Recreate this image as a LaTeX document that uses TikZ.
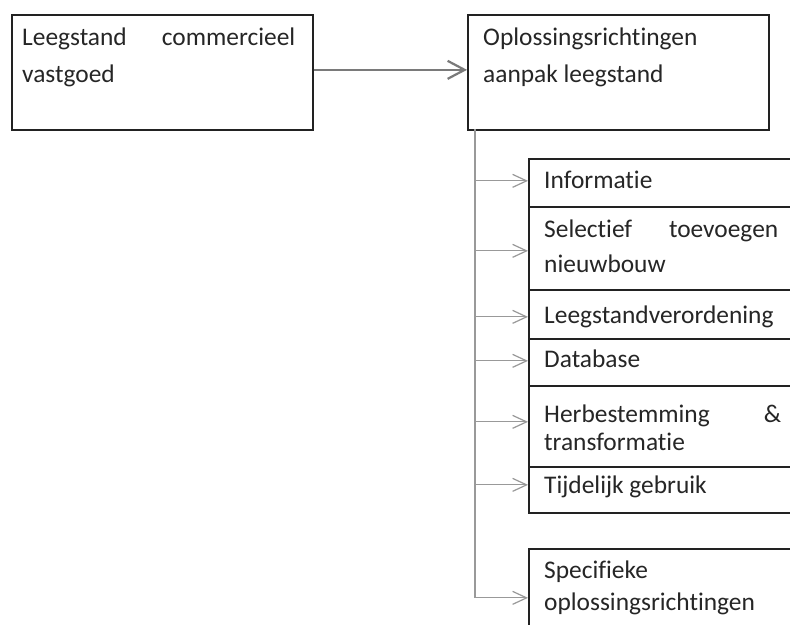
\documentclass[tikz,border=0pt]{standalone}
\usepackage{fontspec}
\setmainfont{Carlito}[Ligatures=NoCommon]
\usetikzlibrary{arrows.meta}
\definecolor{boxline}{HTML}{222222}
\definecolor{txt}{HTML}{262626}
\definecolor{mainline}{HTML}{7A7A7A}
\definecolor{branchline}{HTML}{999999}
\tikzset{
  box/.style={draw=boxline, line width=1.7pt, inner sep=0pt, anchor=north west, fill=white},
  lbl/.style={inner sep=0pt, anchor=base west, text=txt, font=\fontsize{25.4}{30}\selectfont},
  mainarrow/.style={draw=mainline, line width=2.2pt, -{Straight Barb[length=17pt,width=18pt,line width=2.2pt]}},
  branch/.style={draw=branchline, line width=1.2pt, -{Straight Barb[length=14pt,width=13pt,line width=1.2pt]}},
}
\begin{document}
\begin{tikzpicture}[x=1pt, y=-1pt]
\useasboundingbox (0,0) rectangle (790,624);
\begin{scope}
\clip (0,0) rectangle (790,624);
\fill[white] (0,0) rectangle (790,624);

% top row
\node[box, minimum width=301pt, minimum height=115pt] (lbox) at (11,14) {};
\node[box, minimum width=301pt, minimum height=115pt] (rbox) at (467,14) {};
\node[lbl] (lt1) at (22,45) {\makebox[273pt][s]{Leegstand\hfill commercieel}};
\node[lbl] (lt2) at (22,82) {vastgoed};
\node[lbl] (rt1) at (483,45) {Oplossingsrichtingen};
\node[lbl] (rt2) at (483,82) {aanpak leegstand};

% stacked solution boxes
\node[box, minimum width=268pt, minimum height=48pt] (info) at (528,158) {};
\node[box, minimum width=268pt, minimum height=83pt] (sel)  at (528,206) {};
\node[box, minimum width=268pt, minimum height=49pt] (leeg) at (528,289) {};
\node[box, minimum width=268pt, minimum height=47pt] (db)   at (528,338) {};
\node[box, minimum width=268pt, minimum height=81pt] (herb) at (528,385) {};
\node[box, minimum width=268pt, minimum height=46pt] (tijd) at (528,466) {};
\node[box, minimum width=268pt, minimum height=98pt] (spec) at (528,548) {};

\node[lbl] (t-info)  at (544,188) {Informatie};
\node[lbl] (t-sel1)  at (544,237) {\makebox[234pt][s]{Selectief\hfill toevoegen}};
\node[lbl] (t-sel2)  at (544,272) {nieuwbouw};
\node[lbl] (t-leeg)  at (544,323) {Leegstandverordening};
\node[lbl] (t-db)    at (544,367) {Database};
\node[lbl] (t-herb1) at (544,422) {\makebox[237pt][s]{Herbestemming\hfill \&}};
\node[lbl] (t-herb2) at (544,450) {transformatie};
\node[lbl] (t-tijd)  at (544,493) {Tijdelijk gebruik};
\node[lbl] (t-spec1) at (544,578) {Specifieke};
\node[lbl] (t-spec2) at (544,610) {oplossingsrichtingen};

% connectors
\draw[mainarrow] ([yshift=2.5pt]lbox.east) -- ([yshift=2.5pt]rbox.west);

\coordinate (trunk) at (475,129);
\coordinate (e-info) at ([yshift=2pt]info.west);
\coordinate (e-sel)  at ([yshift=-2.5pt]sel.west);
\coordinate (e-leeg) at ([yshift=-2.5pt]leeg.west);
\coordinate (e-db)   at ([yshift=1.5pt]db.west);
\coordinate (e-herb) at ([yshift=4.5pt]herb.west);
\coordinate (e-tijd) at ([yshift=5pt]tijd.west);

\draw[branch] (trunk) |- (spec.west);
\foreach \t in {info,sel,leeg,db,herb,tijd}
  \draw[branch] (trunk |- e-\t) -- (e-\t);
\end{scope}
\end{tikzpicture}
\end{document}
